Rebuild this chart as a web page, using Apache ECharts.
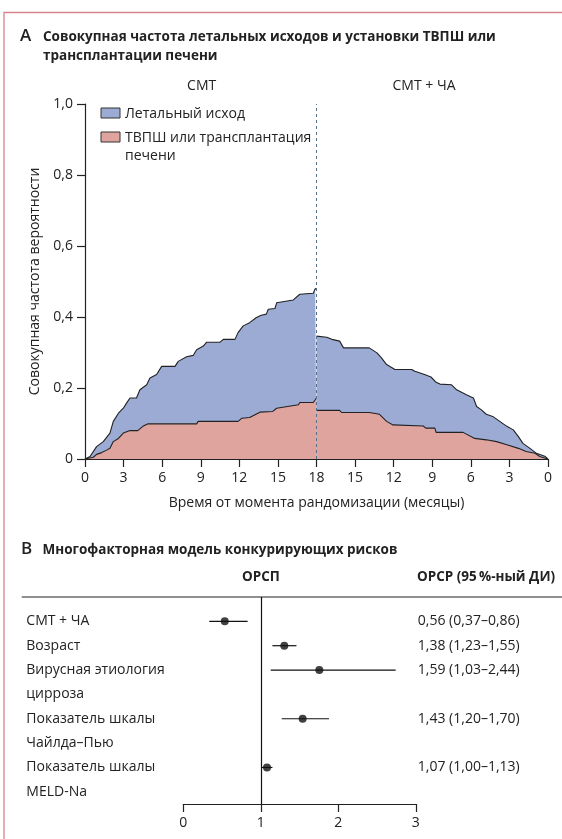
<!DOCTYPE html>
<html><head><meta charset="utf-8">
<script src="https://cdn.jsdelivr.net/npm/echarts@6/dist/echarts.min.js"></script>
<style>html,body{margin:0;padding:0;background:#fff;} #c{width:562px;height:839px;}</style>
</head><body><div id="c"></div>
<script>
// ---------- DATA ----------
// Panel A: SMT arm (months since randomisation)
const smtAllMonths  = [0,0.39,0.9,1.42,1.94,2.2,2.6,2.98,3.24,3.5,4.0,4.27,4.8,5.05,5.57,5.96,7.0,7.25,7.9,8.42,8.68,9.2,9.46,10.5,10.75,11.66,11.9,12.3,12.8,13.3,13.7,14.1,14.25,14.77,14.9,16.2,16.7,17.75,17.9,18];
const smtAllValues  = [0,0.007,0.035,0.049,0.073,0.106,0.129,0.143,0.158,0.172,0.172,0.195,0.209,0.228,0.238,0.261,0.261,0.275,0.288,0.292,0.308,0.318,0.329,0.329,0.337,0.337,0.356,0.375,0.384,0.398,0.405,0.408,0.422,0.424,0.44,0.448,0.464,0.467,0.48,0.478];
const smtTipsMonths = [0,0.65,0.9,1.3,1.68,1.94,2.2,2.6,2.98,3.5,4.1,4.2,4.5,4.9,8.68,8.8,11.9,12.2,12.8,13.6,14.6,14.9,16.6,16.7,17.75,18];
const smtTipsValues = [0,0.005,0.013,0.018,0.025,0.03,0.049,0.058,0.073,0.08,0.08,0.084,0.092,0.099,0.099,0.106,0.106,0.115,0.117,0.132,0.134,0.143,0.153,0.159,0.159,0.172];
// Panel A: SMT + CHA arm (months, plotted mirrored)
const chaAllMonths  = [18,17.2,16.8,16.2,15.9,13.9,13.3,12.95,12.55,11.9,10.6,10.35,9.6,9.1,8.7,8.4,7.5,7.1,6.35,5.8,5.55,5.2,4.8,4.3,3.75,3.2,2.7,2.3,1.95,1.4,0.9,0.25,0];
const chaAllValues  = [0.346,0.343,0.337,0.332,0.313,0.313,0.299,0.285,0.266,0.252,0.252,0.247,0.238,0.231,0.216,0.211,0.209,0.195,0.181,0.172,0.148,0.139,0.126,0.12,0.106,0.092,0.082,0.063,0.044,0.03,0.016,0.008,0];
const chaTipsMonths = [18,16.2,16.05,13.9,13.1,12.55,12.05,9.7,9.5,8.8,8.7,6.6,5.7,4.8,4.0,3.2,2.3,1.7,1.0,0.65,0];
const chaTipsValues = [0.137,0.137,0.131,0.131,0.126,0.106,0.096,0.093,0.087,0.087,0.075,0.075,0.058,0.054,0.049,0.04,0.03,0.021,0.016,0.007,0];

// Panel B: forest plot
const forestLabels = [['СМТ + ЧА'],['Возраст'],['Вирусная этиология','цирроза'],['Показатель шкалы','Чайлда–Пью'],['Показатель шкалы','MELD-Na']];
const forestHR  = [0.535,1.303,1.755,1.54,1.08];
const forestLo  = [0.335,1.15,1.128,1.27,1.01];
const forestHi  = [0.83,1.46,2.74,1.88,1.15];
const forestCIText = ['0,56 (0,37–0,86)','1,38 (1,23–1,55)','1,59 (1,03–2,44)','1,43 (1,20–1,70)','1,07 (1,00–1,13)'];

// ---------- STYLE ----------
const FAM = "'Open Sans'";
const BLUE = '#9babd4', RED = '#e0a49f', INK = '#222';
function fit(text, target, weight){
  const c = document.createElement('canvas').getContext('2d');
  c.font = weight + ' 100px ' + FAM;
  return 100 * target / c.measureText(text).width;
}
const fsBody = fit('Время от момента рандомизации (месяцы)', 296, 'normal');
const fsBold = fit('Совокупная частота летальных исходов и установки ТВПШ или', 453, 'bold');
const fontBody = fsBody.toFixed(2) + 'px ' + FAM;
const fontBold = 'bold ' + fsBold.toFixed(2) + 'px ' + FAM;

// derived line indexes for forest rows
const rowLine = []; const lineLabels = {}; const lineCI = {};
let li = 0;
forestLabels.forEach((lines, i) => { rowLine.push(li); lines.forEach((t, k) => { lineLabels[li + k] = t; }); lineCI[li] = forestCIText[i]; li += lines.length; });

const zip = (a, b) => a.map((v, i) => [v, b[i]]);
const mirror = a => a.map(m => 36 - m);

const txt = (x, y, text, font, align) => ({type:'text', x:x, y:y, silent:true,
  style:{text:text, font:font, fill:INK, textAlign:align||'left', textVerticalAlign:'middle'}});

const areaSeries = (name, xs, ys, color, extra) => Object.assign({
  type:'line', name:name, xAxisIndex:0, yAxisIndex:0, data:zip(xs, ys), symbol:'none',
  lineStyle:{color:INK, width:1.1}, itemStyle:{color:color}, areaStyle:{color:color, opacity:1},
  silent:true, animation:false
}, extra||{});

const option = {
  animation:false,
  textStyle:{fontFamily:FAM},
  grid:[
    {left:85, top:104, width:463, height:355},
    {left:183.3, top:597, width:232.5, height:207}
  ],
  xAxis:[
    {gridIndex:0, type:'value', min:0, max:36, interval:3,
     axisLine:{onZero:false, lineStyle:{color:INK, width:1.2}},
     axisTick:{length:8, lineStyle:{color:INK, width:1.2}},
     axisLabel:{formatter:v => String(v <= 18 ? v : 36 - v), color:INK, fontSize:fsBody, margin:12, fontFamily:FAM},
     splitLine:{show:false},
     name:'Время от момента рандомизации (месяцы)', nameLocation:'middle', nameGap:37,
     nameTextStyle:{color:INK, fontSize:fsBody, fontFamily:FAM}},
    {gridIndex:1, type:'value', min:0, max:3, interval:1, position:'bottom',
     axisLine:{onZero:false, lineStyle:{color:INK, width:1.2}},
     axisTick:{length:8, lineStyle:{color:INK, width:1.2}},
     axisLabel:{color:INK, fontSize:fsBody, margin:12, fontFamily:FAM},
     splitLine:{show:false}}
  ],
  yAxis:[
    {gridIndex:0, type:'value', min:0, max:1, interval:0.2,
     axisLine:{show:true, onZero:false, lineStyle:{color:INK, width:1.2}},
     axisTick:{show:true, length:8, lineStyle:{color:INK, width:1.2}},
     axisLabel:{formatter:v => v === 0 ? '0' : v.toFixed(1).replace('.', ','), color:INK, fontSize:fsBody, margin:12, fontFamily:FAM},
     splitLine:{show:false},
     name:'Совокупная частота вероятности', nameLocation:'middle', nameGap:41, nameRotate:90,
     nameTextStyle:{color:INK, fontSize:fsBody, fontFamily:FAM}},
    {gridIndex:1, type:'value', inverse:true, min:-1, max:7.5, interval:1, position:'left',
     axisLine:{show:false, onZero:false}, axisTick:{show:false}, splitLine:{show:false},
     axisLabel:{formatter:v => lineLabels[v] || '', align:'left', margin:157, color:INK, fontSize:fsBody, fontFamily:FAM}},
    {gridIndex:1, type:'value', inverse:true, min:-1, max:7.5, interval:1, position:'right',
     axisLine:{show:false, onZero:false}, axisTick:{show:false}, splitLine:{show:false},
     axisLabel:{formatter:v => lineCI[v] || '', align:'left', margin:2, color:INK, fontSize:fsBody, fontFamily:FAM}}
  ],
  series:[
    areaSeries('Летальный исход', smtAllMonths, smtAllValues, BLUE),
    areaSeries('ТВПШ или трансплантация печени', smtTipsMonths, smtTipsValues, RED),
    areaSeries('Летальный исход', mirror(chaAllMonths), chaAllValues, BLUE),
    areaSeries('ТВПШ или трансплантация печени', mirror(chaTipsMonths), chaTipsValues, RED, {
      markLine:{silent:true, symbol:['none','none'], label:{show:false}, animation:false,
        lineStyle:{color:'#56718a', type:[3,3], width:1}, data:[{xAxis:18}]}
    }),
    {type:'custom', xAxisIndex:1, yAxisIndex:1, silent:true, animation:false,
     data:forestLo.map((lo, i) => [lo, forestHi[i], rowLine[i]]),
     encode:{x:[0,1], y:2},
     renderItem:(params, api) => {
       const a = api.coord([api.value(0), api.value(2)]);
       const b = api.coord([api.value(1), api.value(2)]);
       return {type:'line', shape:{x1:a[0], y1:a[1], x2:b[0], y2:b[1]}, style:{stroke:'#111', lineWidth:1.2}};
     }},
    {type:'scatter', xAxisIndex:1, yAxisIndex:1, silent:true, animation:false,
     data:forestHR.map((v, i) => [v, rowLine[i]]), symbolSize:8, itemStyle:{color:'#111'}, z:5,
     markLine:{silent:true, symbol:['none','none'], label:{show:false}, animation:false,
       lineStyle:{color:'#111', type:'solid', width:1.2}, data:[{xAxis:1}]}}
  ],
  graphic:[
    {type:'polyline', silent:true, shape:{points:[[4,839],[4,12.5],[562,12.5]]}, style:{stroke:'#d8848f', lineWidth:1.3, fill:null}},
    txt(20, 36, 'A', '600 17px ' + FAM),
    txt(43, 37, 'Совокупная частота летальных исходов и установки ТВПШ или', fontBold),
    txt(43, 56.5, 'трансплантации печени', fontBold),
    txt(201.7, 86, 'СМТ', fontBody, 'center'),
    txt(424, 86, 'СМТ + ЧА', fontBody, 'center'),
    {type:'rect', silent:true, shape:{x:101, y:108, width:19, height:10}, style:{fill:BLUE, stroke:'#333', lineWidth:1}},
    txt(125, 113.5, 'Летальный исход', fontBody),
    {type:'rect', silent:true, shape:{x:101, y:132, width:19, height:10}, style:{fill:RED, stroke:'#333', lineWidth:1}},
    txt(125, 137.5, 'ТВПШ или трансплантация', fontBody),
    txt(125, 156, 'печени', fontBody),
    txt(21, 549.5, 'B', '600 17px ' + FAM),
    txt(42.5, 550, 'Многофакторная модель конкурирующих рисков', fontBold),
    txt(261, 577, 'ОРСП', fontBold, 'center'),
    txt(417, 577, 'ОРСР (95\u2009%-ный ДИ)', fontBold),
    {type:'line', silent:true, shape:{x1:21.7, y1:597, x2:562, y2:597}, style:{stroke:INK, lineWidth:1.2}}
  ]
};
const chart = echarts.init(document.getElementById('c'), null, {renderer:'canvas'});
chart.setOption(option);
</script></body></html>
